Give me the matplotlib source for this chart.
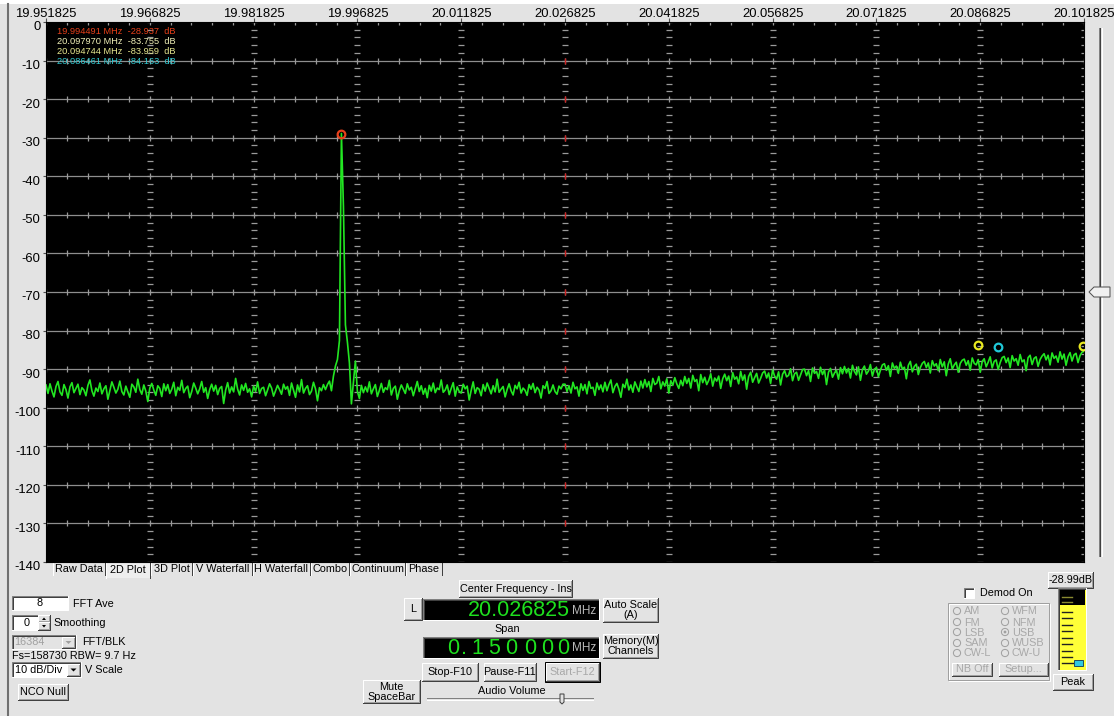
import numpy as np
import matplotlib
matplotlib.use('Agg')
import matplotlib.pyplot as plt
import matplotlib.transforms as mtransforms
from matplotlib.patches import Rectangle, Polygon, Circle

plt.rcParams['font.family'] = ['Liberation Sans', 'DejaVu Sans']

W, H = 1114, 716
FACE = '#E3E3E3'

# ---------------- data ----------------
f_start = 19.951825
f_stop = 20.101825
x_tick_freqs = [19.951825, 19.966825, 19.981825, 19.996825, 20.011825, 20.026825,
                20.041825, 20.056825, 20.071825, 20.086825, 20.101825]
x_tick_labels = ['19.951825', '19.966825', '19.981825', '19.996825', '20.011825',
                 '20.026825', '20.041825', '20.056825', '20.071825', '20.086825', '20.101825']
y_ticks = [0, -10, -20, -30, -40, -50, -60, -70, -80, -90, -100, -110, -120, -130, -140]

level_db = [
    -94.1, -96.3, -93.8, -95.7, -97.2, -94.5, -93.2, -95.9, -96.8, -94.0, -95.3, -97.5, -94.6, -93.5, -96.1, -95.0, -93.9, -96.6, -94.8, -95.4,
    -96.9, -94.2, -92.8, -95.6, -97.0, -94.9, -95.8, -93.6, -96.4, -95.1, -94.3, -97.8, -95.5, -93.3, -94.7, -96.2, -95.2, -93.1, -95.8, -96.7,
    -94.4, -95.9, -97.3, -93.9, -94.6, -96.0, -92.6, -95.3, -96.5, -94.1, -95.7, -98.4, -94.9, -93.7, -95.4, -96.8, -94.3, -95.0, -97.1, -93.8,
    -95.6, -94.0, -96.3, -95.2, -93.4, -96.9, -94.7, -95.5, -92.9, -96.1, -95.0, -94.4, -97.4, -95.8, -93.6, -94.9, -96.4, -95.1, -93.2, -96.0,
    -94.8, -97.6, -95.3, -93.9, -95.7, -94.2, -96.6, -95.0, -94.5, -98.9, -95.4, -93.5, -96.2, -94.6, -95.9, -92.4, -95.2, -96.7, -94.1, -95.5,
    -93.7, -96.0, -95.1, -97.2, -94.4, -95.8, -93.3, -96.3, -95.0, -94.7, -96.9, -95.4, -93.8, -94.9, -97.0, -95.6, -94.2, -95.3, -96.5, -93.9,
    -95.2, -94.5, -96.8, -93.6, -95.5, -97.3, -94.1, -95.9, -92.7, -96.2, -95.0, -94.3, -96.6, -95.7, -93.4, -95.1, -98.2, -94.8, -95.6, -94.0,
    -95.3, -94.0, -93.1, -95.6, -91.8, -89.2, -87.5, -82.6, -28.9, -47.8, -78.5, -83.0, -88.4, -99.0, -93.5, -87.9, -95.8, -97.6, -94.2, -96.1,
    -94.6, -95.9, -93.3, -96.4, -95.1, -94.0, -97.1, -95.5, -93.7, -96.0, -94.8, -95.3, -92.9, -96.7, -95.0, -94.4, -97.8, -95.6, -94.1, -95.2,
    -96.3, -93.8, -95.4, -94.7, -96.9, -95.1, -93.2, -95.8, -94.3, -96.5, -95.0, -97.4, -94.2, -95.7, -93.6, -96.1, -94.9, -95.3, -92.8, -96.0,
    -95.4, -94.1, -96.6, -95.0, -93.5, -97.0, -94.6, -95.8, -96.2, -93.9, -95.1, -94.4, -98.0, -95.5, -93.3, -96.3, -94.8, -95.2, -96.9, -94.0,
    -95.7, -93.6, -95.0, -96.4, -94.3, -95.9, -92.6, -96.0, -95.2, -94.5, -97.2, -95.3, -93.8, -95.6, -96.7, -94.2, -95.1, -93.4, -96.2, -94.9,
    -95.5, -96.8, -94.0, -95.2, -93.7, -96.1, -94.7, -95.4, -97.5, -94.3, -95.0, -93.2, -96.3, -95.6, -94.1, -95.8, -96.5, -94.4, -95.1, -93.9,
    -93.9, -95.8, -94.3, -96.2, -93.4, -95.1, -94.6, -97.0, -93.8, -95.5, -94.0, -96.4, -93.2, -95.0, -94.7, -96.8, -93.6, -95.3, -94.1, -95.9,
    -93.4, -95.6, -94.0, -92.8, -96.1, -94.5, -93.7, -95.2, -97.3, -93.9, -94.8, -92.6, -95.4, -94.1, -96.0, -93.3, -94.6, -95.8, -93.1, -94.9,
    -92.7, -94.6, -93.2, -95.8, -92.4, -94.0, -93.6, -91.9, -95.1, -93.3, -94.4, -92.5, -96.2, -93.0, -94.2, -92.2, -93.8, -95.0, -92.9, -94.3,
    -91.9, -93.7, -92.4, -94.9, -91.6, -93.2, -92.7, -95.6, -91.4, -93.5, -92.1, -94.0, -92.9, -91.2, -94.4, -92.3, -93.1, -91.8, -95.0, -92.5,
    -91.3, -93.0, -91.8, -94.5, -90.9, -92.6, -92.0, -93.8, -90.6, -92.9, -91.5, -95.2, -91.9, -90.8, -93.4, -92.2, -91.1, -93.6, -92.4, -91.0,
    -90.5, -92.3, -91.0, -93.7, -90.2, -91.8, -92.6, -90.7, -94.1, -91.3, -90.4, -92.0, -91.6, -89.9, -93.0, -91.2, -90.8, -92.9, -91.5, -90.1,
    -90.0, -91.7, -90.4, -93.2, -89.7, -91.1, -90.6, -92.4, -89.5, -91.4, -90.2, -94.0, -90.8, -89.8, -92.1, -91.0, -90.3, -92.6, -89.6, -91.2,
    -89.3, -91.0, -89.8, -92.3, -89.0, -90.6, -91.5, -89.4, -92.9, -90.1, -89.2, -91.3, -90.5, -88.8, -91.8, -90.0, -89.6, -92.0, -90.3, -88.9,
    -88.6, -90.3, -89.1, -91.9, -88.4, -89.8, -89.2, -91.1, -88.2, -90.0, -89.5, -92.5, -89.0, -88.0, -90.7, -89.3, -88.7, -91.4, -89.6, -88.5,
    -88.0, -89.6, -88.4, -91.0, -87.8, -89.2, -88.6, -90.4, -87.5, -89.4, -88.1, -91.7, -88.7, -87.3, -90.0, -88.9, -88.2, -90.8, -88.5, -87.7,
    -87.4, -89.0, -87.8, -90.3, -87.1, -88.5, -88.9, -87.5, -90.8, -88.0, -87.3, -89.4, -88.2, -86.8, -89.7, -88.0, -87.6, -90.1, -88.3, -87.0,
    -86.7, -88.3, -87.1, -89.6, -86.5, -87.9, -87.3, -89.0, -86.2, -88.1, -87.6, -90.4, -87.0, -86.4, -88.8, -87.2, -86.8, -89.3, -87.5, -86.6,
    -86.0, -87.6, -86.4, -88.9, -85.8, -87.2, -86.6, -88.2, -85.5, -87.4, -86.1, -89.0, -86.8, -85.7, -87.9, -86.3, -85.9, -88.3, -86.5, -85.6,
    -85.4,
]

marker_freq = [19.994491, 20.086510, 20.089400, 20.101680]
marker_db = [-28.937, -83.755, -84.163, -83.959]
marker_colors = ['#E8401A', '#E8E820', '#20C8D8', '#E8E820']

marker_texts = ['19.994491 MHz  -28.937  dB', '20.097970 MHz  -83.755  dB',
                '20.094744 MHz  -83.959  dB', '20.086461 MHz  -84.163  dB']
marker_text_colors = ['#E8401A', '#F0F0B8', '#E8E890', '#30C8D0']

tab_labels = ['Raw Data', '2D Plot', '3D Plot', 'V Waterfall', 'H Waterfall', 'Combo', 'Continuum', 'Phase']
tab_edges = [53, 106, 151, 193, 253, 311, 350, 406, 443]

# ---------------- figure ----------------
fig = plt.figure(figsize=(W / 100, H / 100), dpi=100)
bg = fig.add_axes([0, 0, 1, 1])
bg.set_xlim(0, W)
bg.set_ylim(H, 0)
bg.axis('off')
bg.add_patch(Rectangle((0, 0), W, H, facecolor=FACE, edgecolor='none', zorder=0))
bg.add_patch(Rectangle((0, 0), W, 4, facecolor='white', edgecolor='none', zorder=1))
bg.plot([8, 8], [4, H], color='#707070', lw=1.5, zorder=1)

LW = 0.72
GUI_FS = 7.8


def raised(x0, y0, x1, y1, face=FACE, outline=False):
    bg.add_patch(Rectangle((x0, y0), x1 - x0, y1 - y0, facecolor=face, edgecolor='none', zorder=2))
    bg.plot([x0, x0, x1], [y1, y0, y0], color='white', lw=LW, zorder=3)
    bg.plot([x0 + 1, x1 - 1, x1 - 1], [y1 - 1, y1 - 1, y0 + 1], color='#A0A0A0', lw=LW, zorder=3)
    bg.plot([x0, x1, x1], [y1, y1, y0], color='#404040', lw=LW, zorder=3)
    if outline:
        bg.add_patch(Rectangle((x0 - 1, y0 - 1), x1 - x0 + 2, y1 - y0 + 2, facecolor='none',
                               edgecolor='black', lw=LW, zorder=4))


def sunken(x0, y0, x1, y1, face='white'):
    bg.add_patch(Rectangle((x0, y0), x1 - x0, y1 - y0, facecolor=face, edgecolor='none', zorder=2))
    bg.plot([x0, x0, x1], [y1, y0, y0], color='#808080', lw=LW, zorder=3)
    bg.plot([x0 + 1, x0 + 1, x1 - 1], [y1 - 1, y0 + 1, y0 + 1], color='#404040', lw=LW, zorder=3)
    bg.plot([x0, x1, x1], [y1, y1, y0], color='white', lw=LW, zorder=3)


def label(x, y, s, ha='left', color='black', fs=GUI_FS, **kw):
    bg.text(x, y, s, ha=ha, va='center', color=color, fontsize=fs, zorder=5, **kw)


def dropdown_btn(x0, y0, x1, y1, color='black'):
    raised(x0, y0, x1, y1)
    cx, cy = (x0 + x1) / 2, (y0 + y1) / 2
    bg.add_patch(Polygon([[cx - 3, cy - 1.5], [cx + 3, cy - 1.5], [cx, cy + 1.5]],
                         closed=True, facecolor=color, edgecolor='none', zorder=5))


# ---- tabs ----
for i, t in enumerate(tab_labels):
    x0, x1 = tab_edges[i], tab_edges[i + 1] - 1
    if t == '2D Plot':
        bg.add_patch(Rectangle((x0, 561), x1 - x0, 17, facecolor='#EEEEEE', edgecolor='none', zorder=2))
        bg.plot([x0, x0, x1], [578, 562, 562], color='white', lw=LW, zorder=3)
        bg.plot([x1, x1], [562, 578], color='#404040', lw=LW, zorder=3)
        label((x0 + x1) / 2, 570, t, ha='center')
    else:
        bg.add_patch(Rectangle((x0, 562), x1 - x0, 13, facecolor=FACE, edgecolor='none', zorder=2))
        bg.plot([x0, x0], [575, 562], color='white', lw=LW, zorder=3)
        bg.plot([x1, x1], [562, 575], color='#404040', lw=LW, zorder=3)
        label((x0 + x1) / 2, 568.5, t, ha='center')

# ---- left controls ----
sunken(12, 596, 68, 610)
label(40, 603, '8', ha='center')
label(73, 604, 'FFT Ave')

sunken(12, 615, 38, 630)
label(27, 622.5, '0', ha='center')
raised(38, 615, 50, 622)
raised(38, 622, 50, 630)
bg.add_patch(Polygon([[42, 620], [46, 620], [44, 617.5]], facecolor='black', zorder=5))
bg.add_patch(Polygon([[42, 625], [46, 625], [44, 627.5]], facecolor='black', zorder=5))
label(53, 623.5, 'Smoothing')

sunken(12, 635, 76, 649, face=FACE)
label(14, 642, '16384', color='#A0A0A0')
dropdown_btn(62, 637, 75, 648, color='#A0A0A0')
label(82, 642, 'FFT/BLK')
label(12, 656, 'Fs=158730 RBW= 9.7 Hz')

sunken(12, 662, 81, 677)
label(15, 670, '10 dB/Div')
dropdown_btn(67, 664, 80, 676)
label(85, 670, 'V Scale')

raised(18, 684, 68, 700)
label(43, 692, 'NCO Null', ha='center')

# ---- centre controls ----
raised(459, 580, 572, 597)
label(515.5, 588.5, 'Center Frequency - Ins', ha='center')

raised(404, 598, 422, 620)
label(413, 609, 'L', ha='center')

sunken(423, 599, 599, 620, face='black')
label(570, 611, '20.026825', ha='right', color='#1EE01E', fs=15.5)
label(572, 610.5, 'MHz', color='#B8B8B8', fs=8.5)

raised(603, 598, 658, 622)
label(630.5, 605, 'Auto Scale', ha='center')
label(630.5, 615, '(A)', ha='center')

label(507.5, 629, 'Span', ha='center')

sunken(423, 637, 599, 658, face='black')
span_chars = ['0', '.', '1', '5', '0', '0', '0', '0']
span_x = [453, 464, 477, 494, 511, 530, 547, 563]
for ch, cx in zip(span_chars, span_x):
    label(cx, 648.5, ch, ha='center', color='#1EE01E', fs=15.5)
label(572, 648, 'MHz', color='#B8B8B8', fs=8.5)

raised(603, 634, 658, 658)
label(630.5, 641, 'Memory(M)', ha='center')
label(630.5, 651, 'Channels', ha='center')

raised(422, 663, 478, 681)
label(450, 672, 'Stop-F10', ha='center')
raised(484, 663, 536, 681)
label(510, 672, 'Pause-F11', ha='center')
raised(546, 663, 599, 681, outline=True)
label(572.5, 672, 'Start-F12', ha='center', color='#A8A8A8')

raised(363, 680, 420, 703)
label(391.5, 686.5, 'Mute', ha='center')
label(391.5, 696.5, 'SpaceBar', ha='center')

label(512, 690.5, 'Audio Volume', ha='center')
bg.plot([427, 593], [698, 698], color='#808080', lw=LW, zorder=3)
bg.plot([427, 593], [699.5, 699.5], color='white', lw=LW, zorder=3)
bg.add_patch(Polygon([[560, 694], [564, 694], [564, 702], [562, 704], [560, 702]],
                     facecolor=FACE, edgecolor='#404040', lw=LW, zorder=4))

# ---- right controls ----
raised(1048, 572, 1093, 588)
label(1070.5, 580, '-28.99dB', ha='center')

sunken(964, 588, 974, 598)
label(980, 593.5, 'Demod On')

bg.add_patch(Rectangle((948, 603), 101, 77, facecolor='none', edgecolor='#A0A0A0', lw=LW, zorder=3))
bg.add_patch(Rectangle((949, 604), 101, 77, facecolor='none', edgecolor='white', lw=LW, zorder=2))
radio_left = ['AM', 'FM', 'LSB', 'SAM', 'CW-L']
radio_right = ['WFM', 'NFM', 'USB', 'WUSB', 'CW-U']
radio_y = [611, 622, 632, 643, 653]
for i, (a, b) in enumerate(zip(radio_left, radio_right)):
    yy = radio_y[i]
    for cx, s in ((957, a), (1005, b)):
        bg.add_patch(Circle((cx, yy), 3.6, facecolor=FACE, edgecolor='#A0A0A0', lw=LW, zorder=4))
        label(cx + 7, yy + 0.5, s, color='#A8A8A8')
    if b == 'USB':
        bg.add_patch(Circle((1005, yy), 1.4, facecolor='#A0A0A0', edgecolor='none', zorder=5))
raised(952, 663, 992, 676)
label(972, 669.5, 'NB Off', ha='center', color='#A8A8A8')
raised(999, 663, 1048, 676)
label(1023.5, 669.5, 'Setup...', ha='center', color='#A8A8A8')

# meter
sunken(1058, 588, 1086, 670, face='#FFFF38')
bg.add_patch(Rectangle((1060, 590), 25, 15, facecolor='black', edgecolor='none', zorder=3))
meter_ticks_y = [597, 602, 612, 618, 625, 631, 638, 644, 651, 657]
for ty in meter_ticks_y:
    c = '#8A8A30' if ty < 605 else '#202020'
    bg.plot([1062, 1072], [ty, ty], color=c, lw=1.0, zorder=4)
bg.plot([1062, 1074], [663, 663], color='#202020', lw=1.0, zorder=4)
bg.add_patch(Rectangle((1074, 660), 9, 6, facecolor='#30C8E0', edgecolor='#205060', lw=LW, zorder=5))

raised(1053, 674, 1093, 690)
label(1073, 682, 'Peak', ha='center')

# vertical slider at right of plot
bg.plot([1098.5, 1098.5], [28, 556], color='#808080', lw=LW, zorder=2)
bg.plot([1099.5, 1099.5], [28, 556], color='#404040', lw=LW, zorder=2)
bg.plot([1101.5, 1101.5], [28, 556], color='white', lw=LW, zorder=2)
bg.add_patch(Polygon([[1089, 292], [1094, 287], [1110, 287], [1110, 297], [1094, 297]],
                     closed=True, facecolor='#F0F0F0', edgecolor='#505050', lw=LW, zorder=4))

# ---------------- spectrum plot ----------------
ax = fig.add_axes([46 / W, 1 - 562 / H, 1038 / W, 540 / H])
ax.set_facecolor('black')
ax.set_xlim(f_start, f_stop)
ax.set_ylim(-140, 0)
for sp in ax.spines.values():
    sp.set_color('black')
    sp.set_linewidth(0.8)

ax.xaxis.tick_top()
ax.set_xticks(x_tick_freqs)
ax.set_xticklabels(x_tick_labels, fontsize=9.4)
ax.set_yticks(y_ticks)
ax.set_yticklabels([str(v) for v in y_ticks], fontsize=9.4)
ax.tick_params(axis='x', which='major', direction='out', length=3, width=0.8, color='#505050', pad=-1.5)
ax.tick_params(axis='y', which='major', direction='out', length=2, width=0.8, color='#505050', pad=2)
shift = mtransforms.ScaledTranslation(0, -4 / 100, fig.dpi_scale_trans)
for lab in ax.get_yticklabels():
    lab.set_transform(lab.get_transform() + shift)

# grid: horizontal lines every 10 dB with minor crossing ticks every 3 kHz
minor_x = np.arange(f_start, f_stop + 1e-9, 0.003)
grid_y = y_ticks[1:-1]
ax.hlines(grid_y, f_start, f_stop, colors='#8E8E8E', lw=0.9, zorder=1)
for gy in [0] + grid_y:
    ax.plot(minor_x, np.full_like(minor_x, gy), ls='none', marker='|', ms=4.2,
            mew=0.9, color='#9A9A9A', zorder=1)
# vertical dashed columns at major frequencies, dashes every 2 dB
minor_y = np.arange(-140, 0.1, 2)
for fx in x_tick_freqs[1:]:
    ax.plot(np.full_like(minor_y, fx), minor_y, ls='none', marker='_', ms=3.8,
            mew=0.9, color='#9A9A9A', zorder=1)
# centre frequency crossings in red
center_f = x_tick_freqs[5]
ax.plot([center_f] * len(grid_y), grid_y, ls='none', marker='|', ms=4.2, mew=1.0,
        color='#D02020', zorder=1.5)

freq = np.linspace(f_start, f_stop, len(level_db))
ax.plot(freq, level_db, color='#22E622', lw=1.2, zorder=3)

for fx, lv, c in zip(marker_freq, marker_db, marker_colors):
    ax.plot([fx], [lv], marker='o', ms=5.5, mfc='none', mec=c, mew=1.6, zorder=4)

for i, (t, c) in enumerate(zip(marker_texts, marker_text_colors)):
    ax.text(0.0105, 0.983 - i * 0.0185, t, transform=ax.transAxes, color=c,
            fontsize=6.7, ha='left', va='center', zorder=5)

fig.savefig('out.png', dpi=100, facecolor=FACE)
